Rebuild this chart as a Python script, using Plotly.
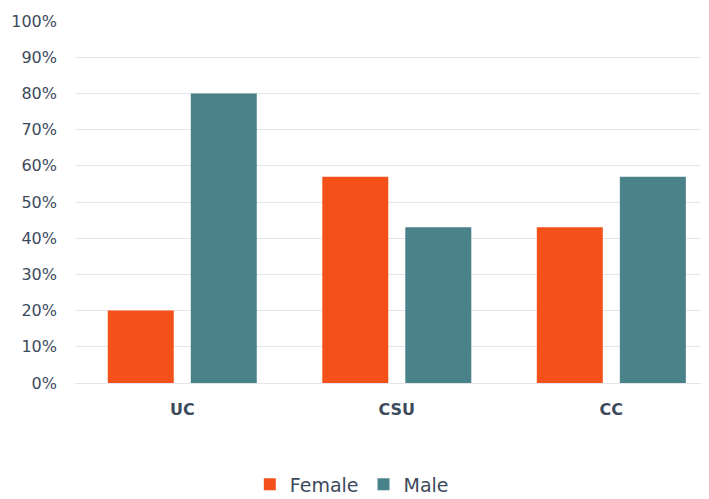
import plotly.graph_objects as go

categories = ["UC", "CSU", "CC"]
female = [0.20, 0.57, 0.43]
male = [0.80, 0.43, 0.57]
tick_vals = [i / 10 for i in range(11)]
tick_text = [f"{i*10}%" for i in range(11)]

fig = go.Figure()
fig.add_trace(go.Bar(name="Female", x=categories, y=female, marker=dict(color="#F4511A", line=dict(width=0))))
fig.add_trace(go.Bar(name="Male", x=categories, y=male, marker=dict(color="#4A828A", line=dict(width=0))))

fig.update_layout(
    width=709, height=499,
    margin=dict(l=67, r=10, t=13, b=124, autoexpand=False),
    barmode="group", bargap=0.226, bargroupgap=0.205,
    plot_bgcolor="white", paper_bgcolor="white",
    font=dict(family="DejaVu Sans", color="#3D4A5C"),
    showlegend=True,
    legend=dict(orientation="h", x=0.438, xanchor="center", y=-0.28, yanchor="middle",
                font=dict(size=19, color="#3D4A5C"), traceorder="normal"),
    xaxis=dict(range=[-0.5, 2.446], showgrid=False, showline=True, linecolor="#E3E5EA", linewidth=1,
               tickfont=dict(size=16, color="#3D4A5C"), ticks="", automargin=False,
               ticklabelstandoff=12),
    yaxis=dict(range=[0, 1], tickvals=tick_vals, ticktext=tick_text, showgrid=True,
               gridcolor="#E3E5EA", gridwidth=1, zeroline=False, ticks="", automargin=False,
               tickfont=dict(size=16, color="#3D4A5C"), ticklabelstandoff=17),
)
fig.update_xaxes(ticktext=["<b>UC</b>", "<b>CSU</b>", "<b>CC</b>"], tickvals=categories)

fig.write_html("out.html")
